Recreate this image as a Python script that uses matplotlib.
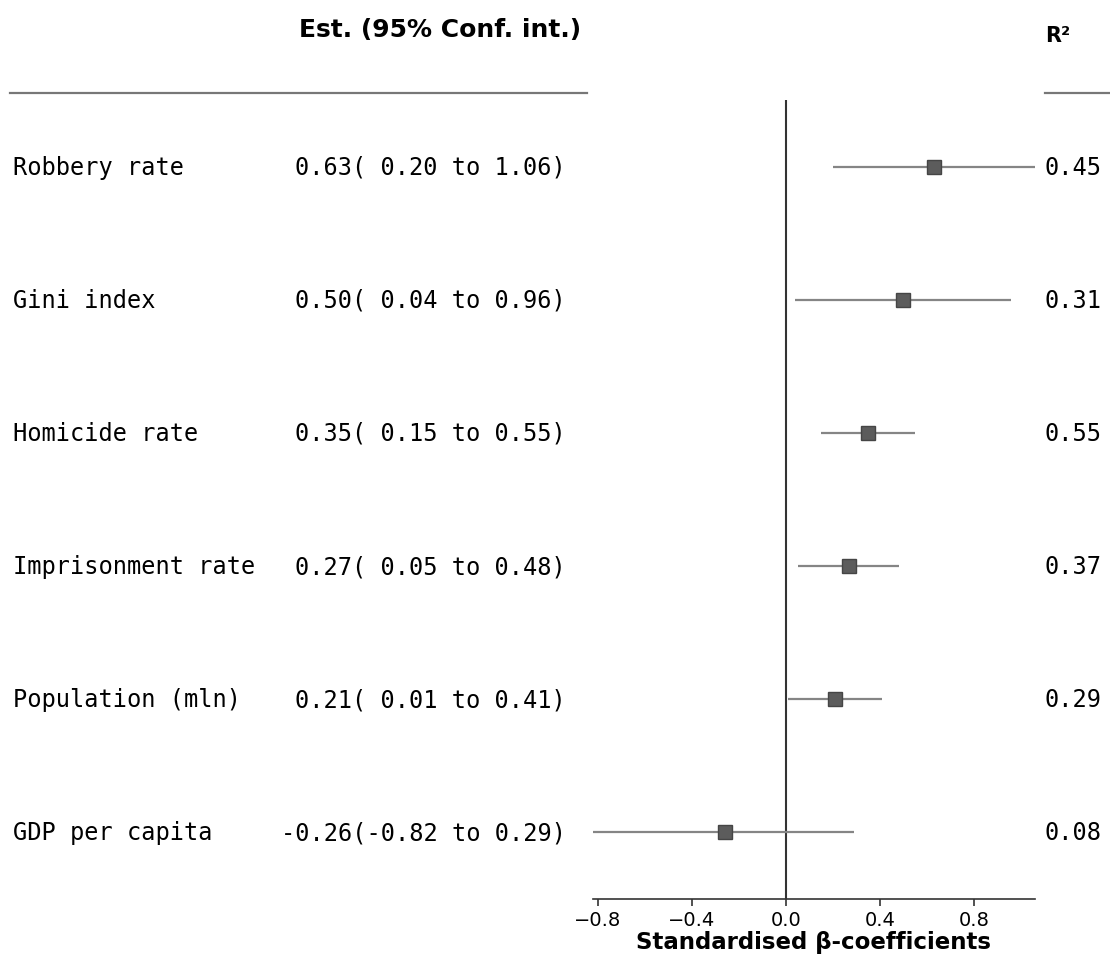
import matplotlib
matplotlib.use("Agg")
import matplotlib.pyplot as plt
from matplotlib import transforms
from matplotlib.lines import Line2D
import numpy as np

# forest plot data
labels = ["Robbery rate", "Gini index", "Homicide rate",
          "Imprisonment rate", "Population (mln)", "GDP per capita"]
est = [0.63, 0.50, 0.35, 0.27, 0.21, -0.26]
ci_low = [0.20, 0.04, 0.15, 0.05, 0.01, -0.82]
ci_high = [1.06, 0.96, 0.55, 0.48, 0.41, 0.29]
r2 = [0.45, 0.31, 0.55, 0.37, 0.29, 0.08]
xticks = [-0.8, -0.4, 0.0, 0.4, 0.8]

W, H = 1110, 962
mono = ["DejaVu Sans Mono"]

fig = plt.figure(figsize=(W / 100, H / 100), dpi=100)
ax = fig.add_axes([593 / W, 1 - 900 / H, 442 / W, 799 / H])

rows = np.arange(len(labels))
ax.axvline(0, color="#333333", lw=1.5, zorder=1)
ax.hlines(rows, ci_low, ci_high, color="#858585", lw=1.6, zorder=2)
ax.plot(est, rows, "s", ms=10, mfc="#5c5c5c", mec="#454545", mew=1, zorder=3)

ax.set_xlim(min(ci_low), max(ci_high))
ax.set_ylim(len(labels) - 0.5, -0.5)
ax.set_yticks([])
for s in ["left", "top", "right"]:
    ax.spines[s].set_visible(False)
ax.spines["bottom"].set_color("#333333")
ax.spines["bottom"].set_linewidth(1.2)
ax.set_xticks(xticks)
ax.tick_params(axis="x", labelsize=14, length=5, width=1.2, color="#333333", pad=3)
ax.set_xlabel("Standardised β-coefficients", fontsize=16.5, fontweight="bold", labelpad=1)

# text columns: figure x, data y
trans = transforms.blended_transform_factory(fig.transFigure, ax.transData)
for i in rows:
    ax.text(13 / W, i, labels[i], transform=trans, ha="left", va="center",
            family=mono, fontsize=17)
    txt = f"{est[i]:.2f}({ci_low[i]:5.2f} to {ci_high[i]:.2f})"
    ax.text(566 / W, i, txt, transform=trans, ha="right", va="center",
            family=mono, fontsize=17)
    ax.text(1045 / W, i, f"{r2[i]:.2f}", transform=trans, ha="left", va="center",
            family=mono, fontsize=17)

# headers
fig.text(440 / W, 1 - 30 / H, "Est. (95% Conf. int.)", ha="center", va="center",
         fontsize=18, fontweight="bold")
fig.text(1045 / W, 1 - 36 / H, "R²", ha="left", va="center",
         fontsize=15, fontweight="bold")
fig.add_artist(Line2D([10 / W, 587 / W], [1 - 94 / H] * 2, transform=fig.transFigure,
                      color="#777777", lw=1.6))
fig.add_artist(Line2D([1045 / W, 1], [1 - 94 / H] * 2, transform=fig.transFigure,
                      color="#777777", lw=1.6))

fig.savefig("out.png", dpi=100, facecolor="white")
